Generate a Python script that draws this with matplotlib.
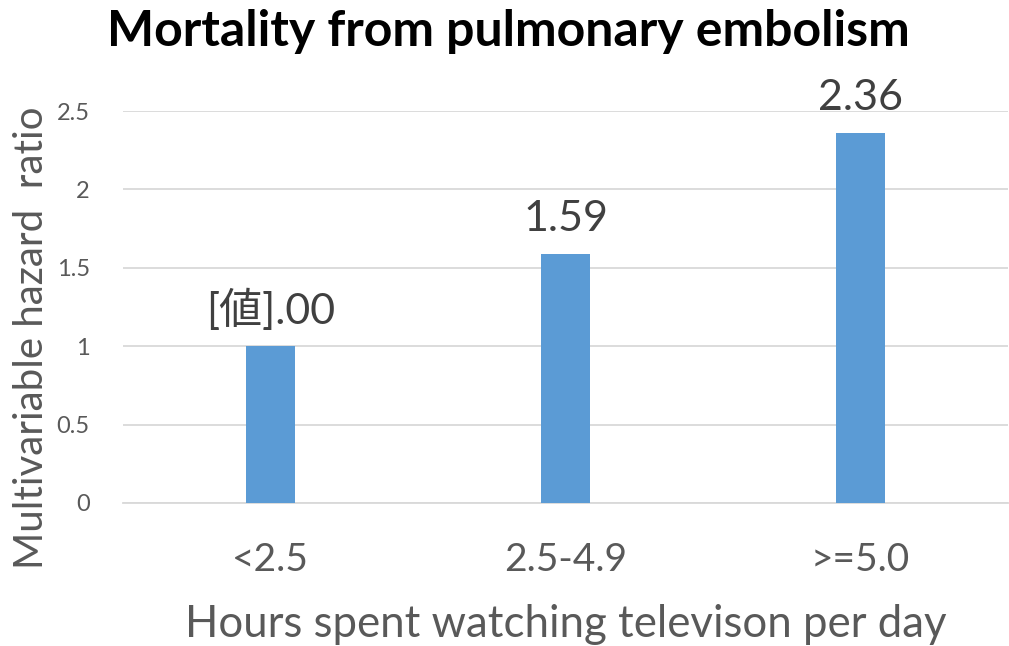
import matplotlib
matplotlib.use("Agg")
import matplotlib.pyplot as plt

categories = ["<2.5", "2.5-4.9", ">=5.0"]
values = [1.00, 1.59, 2.36]
value_labels = ["[値].00", "1.59", "2.36"]
yticks = [0, 0.5, 1, 1.5, 2, 2.5]
ytick_labels = ["0", "0.5", "1", "1.5", "2", "2.5"]

plt.rcParams['font.family'] = ['Lato', 'Noto Sans CJK JP', 'DejaVu Sans']
grey = "#595959"

fig = plt.figure(figsize=(10.09, 6.46), dpi=100)
ax = fig.add_axes([0.1219, 0.2214, 0.8771, 0.6066])
x = list(range(len(categories)))
ax.bar(x, values, width=0.166, color="#5B9BD5", zorder=3)
ax.set_xlim(-0.5, 2.5)
ax.set_ylim(0, 2.5)
ax.set_yticks(yticks)
ax.set_yticklabels(ytick_labels)
ax.set_xticks(x)
ax.set_xticklabels(categories)
ax.grid(axis="y", color="#D9D9D9", linewidth=1.3, zorder=0)
for s in ["top", "right", "left"]:
    ax.spines[s].set_visible(False)
ax.spines["bottom"].set_color("#D9D9D9")
ax.spines["bottom"].set_linewidth(1.3)
ax.tick_params(axis="y", length=0, labelsize=17, labelcolor=grey, pad=24)
ax.tick_params(axis="x", length=0, labelsize=28, labelcolor=grey, pad=28)
for xi, v, lab in zip(x, values, value_labels):
    ax.text(xi, v + 0.1, lab, ha="center", va="bottom", fontsize=31, color="#404040",
            family=['Lato', 'Noto Sans CJK JP', 'DejaVu Sans'])
ax.set_xlabel("Hours spent watching televison per day", fontsize=31.5, color=grey, labelpad=19)
ax.set_ylabel("Multivariable hazard  ratio", fontsize=29, color=grey)
ax.yaxis.set_label_coords(-0.083, 0.421)
fig.text(0.504, 0.951, "Mortality from pulmonary embolism", ha="center", va="center",
         fontsize=36, fontweight="bold", color="black")
fig.savefig("out.png", dpi=100)
